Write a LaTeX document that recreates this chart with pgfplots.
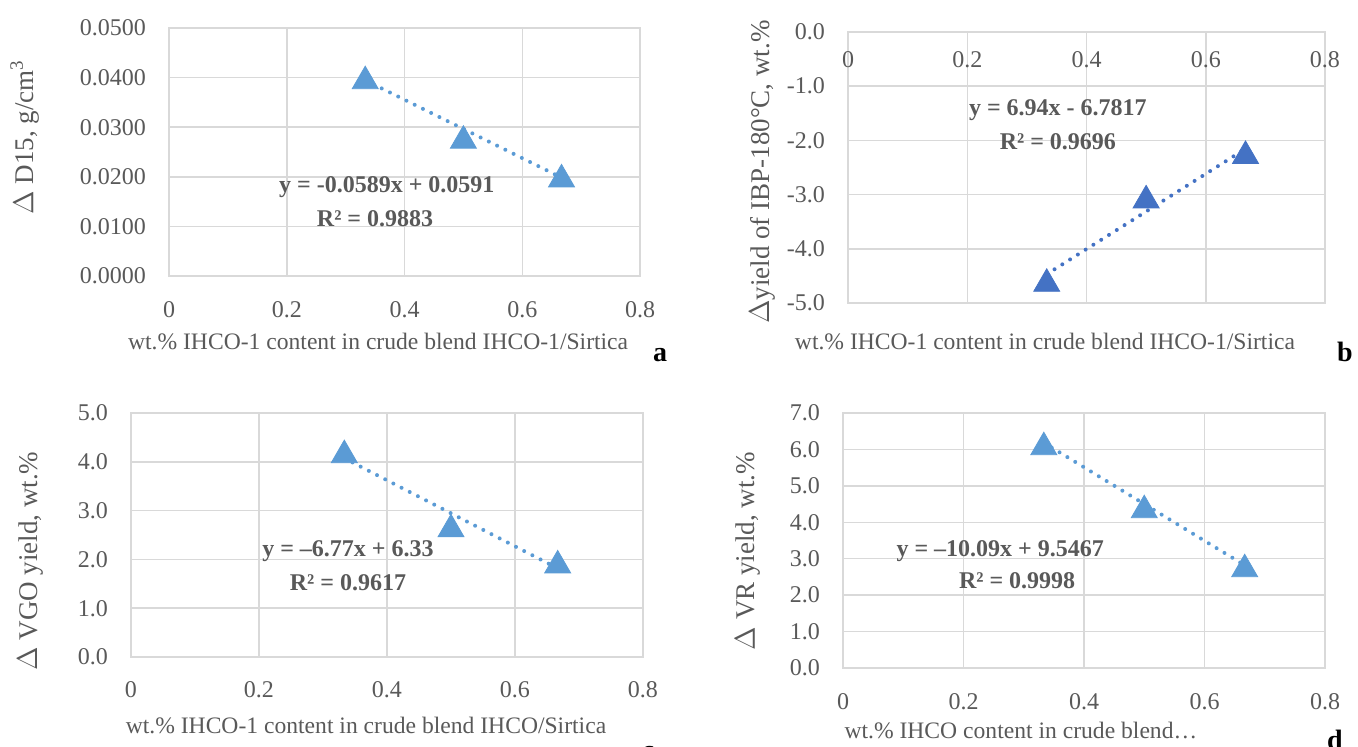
\documentclass[border=0pt]{standalone}
\usepackage{fontspec}
\setmainfont{Liberation Serif}
\usepackage{pgfplots}
\pgfplotsset{compat=1.18}

\definecolor{txt}{HTML}{595959}
\definecolor{gridc}{HTML}{D9D9D9}
\definecolor{mblue}{HTML}{5B9BD5}
\definecolor{dblue}{HTML}{4472C4}

\tikzset{eq/.style={font=\bfseries\fontsize{12}{14}\selectfont, text=txt}}

\pgfplotsset{
  panel/.style={
    scale only axis,
    clip=false,
    xmin=0, xmax=0.8,
    xtick={0,0.2,0.4,0.6,0.8},
    xticklabels={0,0.2,0.4,0.6,0.8},
    grid=major,
    major grid style={gridc, line width=0.75pt},
    axis line style={gridc, line width=0.75pt},
    major tick length=0pt,
    /pgf/number format/assume math mode=true,
    tick label style={font=\fontsize{12}{14}\selectfont, text=txt},
    yticklabel style={anchor=east, xshift=-8pt},
    xlabel style={font=\fontsize{11.8}{13}\selectfont, text=txt, anchor=center},
    ylabel style={font=\fontsize{13.5}{15}\selectfont, text=txt, anchor=center},
  },
  trend/.style={line width=2pt, dash pattern=on 0pt off 4.6pt, line cap=round},
  pts/.style={only marks, mark=triangle*, mark size=7.5pt,
    mark options={yshift=-1.8pt}},
}

\begin{document}
\begin{tikzpicture}
\useasboundingbox (0,0) rectangle (679pt,373.5pt);

% a: density
\begin{axis}[panel,
    at={(84.5pt,235.5pt)}, anchor=south west,
    width=235.5pt, height=124pt,
    ymin=0, ymax=0.05, ytick={0,0.01,0.02,0.03,0.04,0.05},
    scaled y ticks=false,
    yticklabel style={/pgf/number format/.cd, fixed, fixed zerofill, precision=4},
    xticklabel style={anchor=center, yshift=-17pt},
    xlabel={wt.\% IHCO-1 content in crude blend IHCO-1/Sirtica},
    xlabel style={at={(axis description cs:0.444,0)}, yshift=-32.5pt},
    ylabel={$\Delta$ D15, g/cm\textsuperscript{3}},
    ylabel style={at={(axis description cs:-0.306,0.56)}},
]
\addplot[trend, mblue] coordinates {(0.3333,0.03947) (0.6667,0.01983)};
\addplot[pts, mblue] coordinates {(0.3333,0.0400) (0.5,0.0280) (0.6667,0.0202)};
\node[eq] at (axis cs:0.370,0.0179) {y = -0.0589x + 0.0591};
\node[eq] at (axis cs:0.350,0.0115) {R² = 0.9883};
\end{axis}

% b: IBP-180
\begin{axis}[panel,
    at={(424pt,222pt)}, anchor=south west,
    width=238.5pt, height=135.5pt,
    ymin=-5, ymax=0, ytick={-5,-4,-3,-2,-1,0},
    yticklabel style={/pgf/number format/.cd, fixed, fixed zerofill, precision=1},
    xticklabel pos=upper,
    xticklabel style={anchor=center, yshift=-14pt},
    xlabel={wt.\% IHCO-1 content in crude blend IHCO-1/Sirtica},
    xlabel style={at={(axis description cs:0.413,0)}, yshift=-19pt},
    ylabel={$\Delta$yield of IBP-180°C, wt.\%},
    ylabel style={at={(axis description cs:-0.180,0.483)}},
]
\addplot[trend, dblue] coordinates {(0.3333,-4.4684) (0.6667,-2.1550)};
\addplot[pts, dblue] coordinates {(0.3333,-4.58) (0.5,-3.04) (0.6667,-2.22)};
\node[eq] at (axis cs:0.352,-1.44) {y = 6.94x - 6.7817};
\node[eq] at (axis cs:0.352,-2.03) {R² = 0.9696};
\end{axis}

% c: VGO
\begin{axis}[panel,
    at={(65.5pt,45pt)}, anchor=south west,
    width=256pt, height=122pt,
    ymin=0, ymax=5, ytick={0,1,2,3,4,5},
    yticklabel style={/pgf/number format/.cd, fixed, fixed zerofill, precision=1},
    xticklabel style={anchor=center, yshift=-16.5pt},
    xlabel={wt.\% IHCO-1 content in crude blend IHCO/Sirtica},
    xlabel style={at={(axis description cs:0.459,0)}, yshift=-34pt},
    ylabel={$\Delta$ VGO yield, wt.\%},
    ylabel style={at={(axis description cs:-0.197,0.393)}},
]
\addplot[trend, mblue] coordinates {(0.3333,4.0733) (0.6667,1.8167)};
\addplot[pts, mblue] coordinates {(0.3333,4.21) (0.5,2.69) (0.6667,1.95)};
\node[eq] at (axis cs:0.339,2.17) {y = –6.77x + 6.33};
\node[eq] at (axis cs:0.339,1.52) {R² = 0.9617};
\end{axis}

% d: VR
\begin{axis}[panel,
    at={(421.5pt,39.5pt)}, anchor=south west,
    width=241pt, height=127.5pt,
    ymin=0, ymax=7, ytick={0,1,2,3,4,5,6,7},
    yticklabel style={/pgf/number format/.cd, fixed, fixed zerofill, precision=1},
    xticklabel style={anchor=center, yshift=-17pt},
    xlabel={wt.\% IHCO content in crude blend…},
    xlabel style={at={(axis description cs:0.369,0)}, yshift=-31pt},
    ylabel={$\Delta$ VR yield, wt.\%},
    ylabel style={at={(axis description cs:-0.197,0.459)}},
]
\addplot[trend, mblue] coordinates {(0.3333,6.1834) (0.6667,2.8200)};
\addplot[pts, mblue] coordinates {(0.3333,6.16) (0.5,4.43) (0.6667,2.81)};
\node[eq] at (axis cs:0.261,3.21) {y = –10.09x + 9.5467};
\node[eq] at (axis cs:0.289,2.39) {R² = 0.9998};
\end{axis}

\node[font=\bfseries\fontsize{14}{16}\selectfont] at (330pt,196pt) {a};
\node[font=\bfseries\fontsize{14}{16}\selectfont] at (672.5pt,197.5pt) {b};
\node[font=\bfseries\fontsize{14}{16}\selectfont] at (324pt,-3pt) {c};
\node[font=\bfseries\fontsize{14}{16}\selectfont] at (667.5pt,3.5pt) {d};
\end{tikzpicture}
\end{document}
